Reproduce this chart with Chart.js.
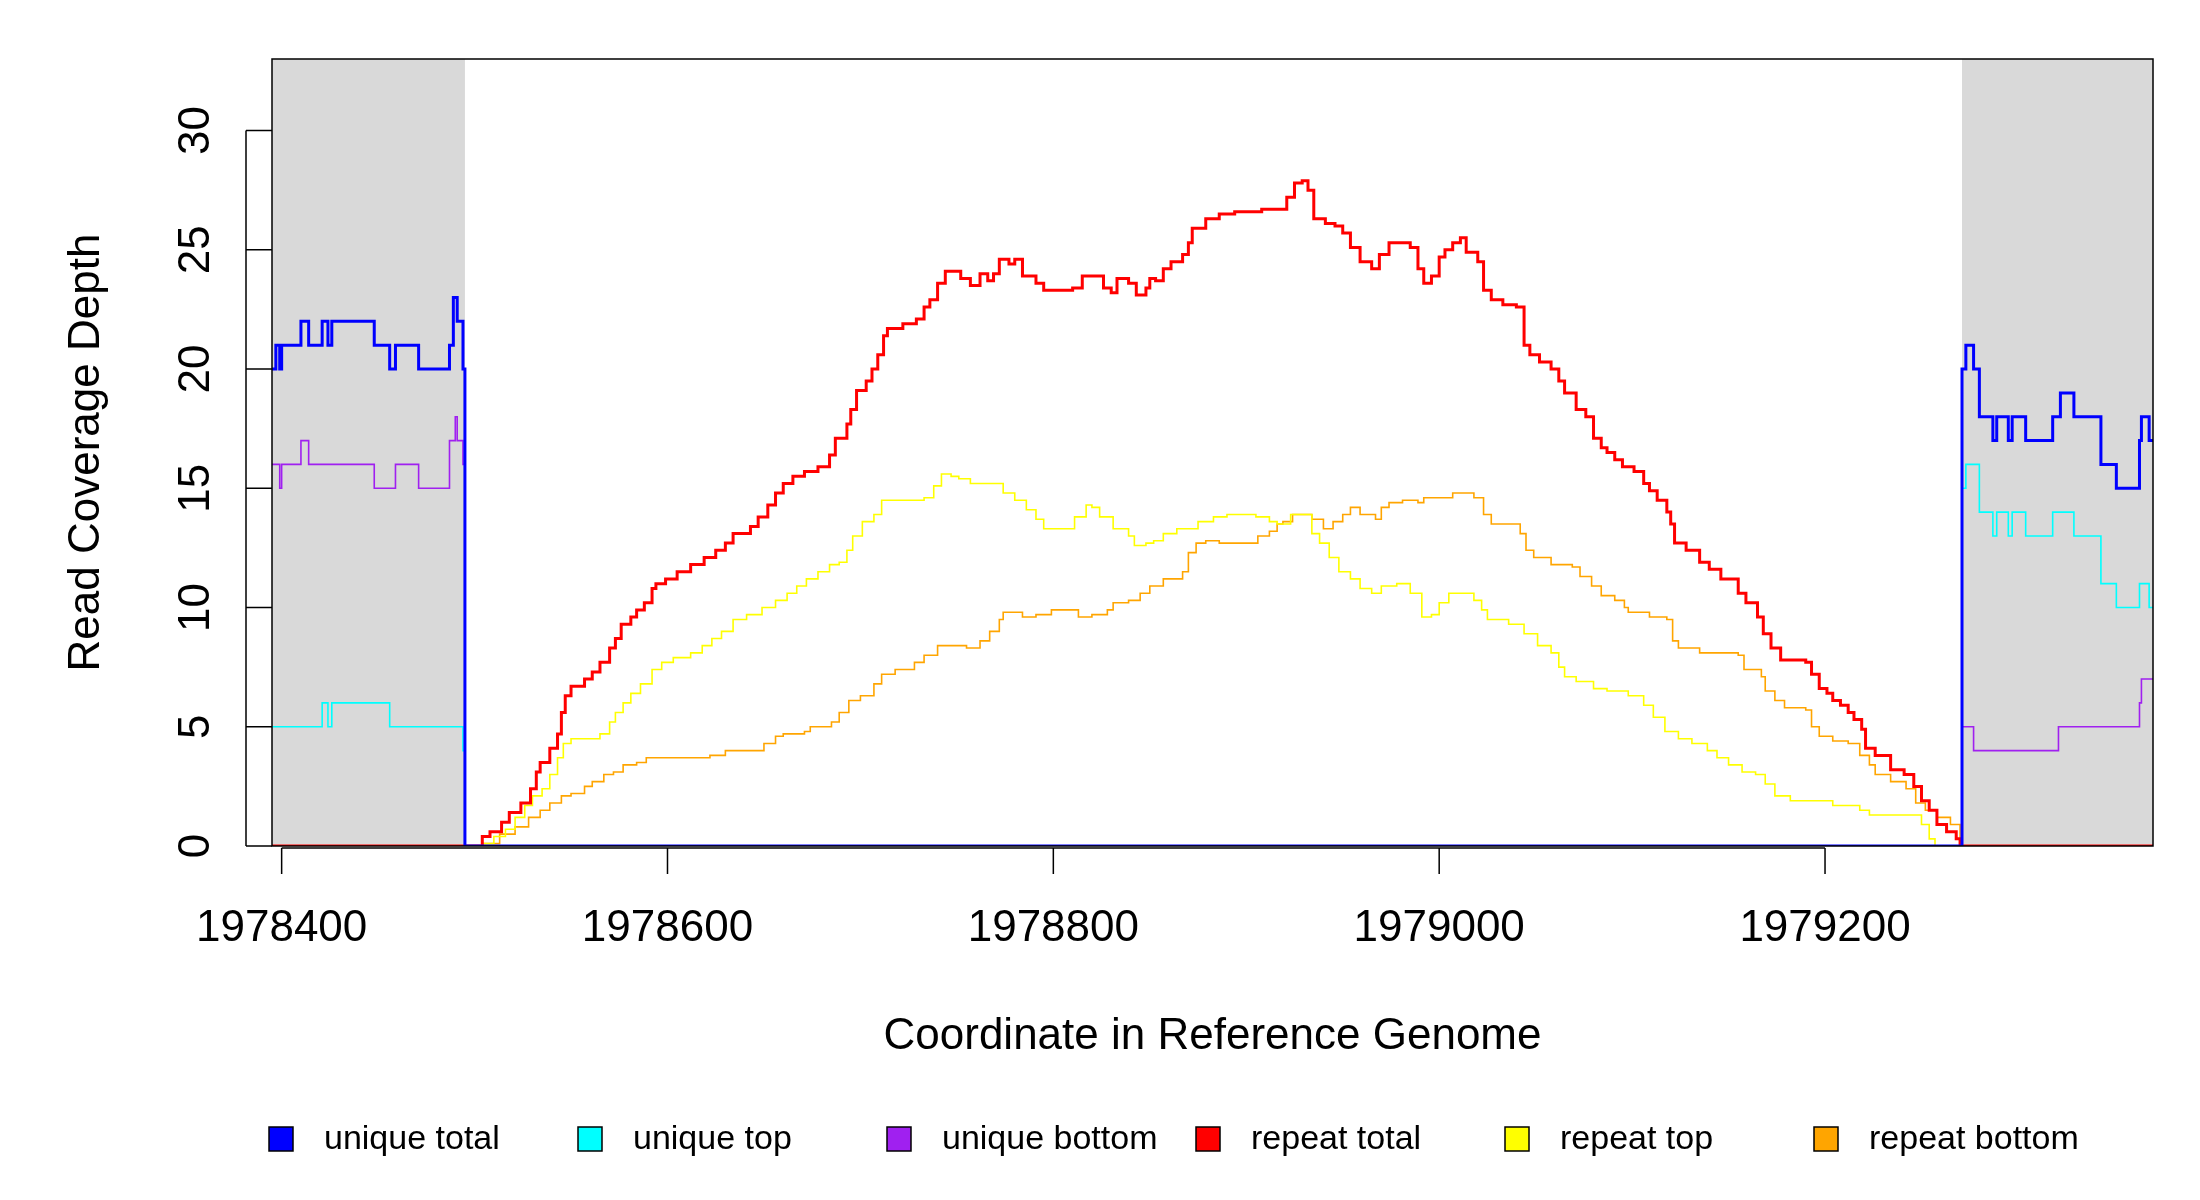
<!DOCTYPE html>
<html><head><meta charset="utf-8">
<script src="https://cdn.jsdelivr.net/npm/chart.js@4/dist/chart.umd.min.js"></script>
<style>html,body{margin:0;padding:0;background:#fff}</style>
</head><body>
<canvas id="c" width="2200" height="1200"></canvas>
<script>
const COORD_BASE = 1978400;
const X_MIN = 1978395, X_MAX = 1979370;
const MASK_LEFT = [1978395, 1978495];
const MASK_RIGHT = [1979271, 1979370];
const xTicks = [1978400, 1978600, 1978800, 1979000, 1979200];
const yTicks = [0, 5, 10, 15, 20, 25, 30];
const seriesNames = ["unique total","unique top","unique bottom","repeat total","repeat top","repeat bottom"];
const seriesColors = ["#0000FF","#00FFFF","#A020F0","#FF0000","#FFFF00","#FFA500"];

// [offset from COORD_BASE, depth]
const uniqueTotal = [[-5,20],[-3,21],[-1,20],[0,21],[10,22],[14,21],[21,22],[24,21],[26,22],[48,21],[56,20],[59,21],[71,20],[87,21],[89,23],[91,22],[94,20],[95,0],
  [871,20],[873,21],[877,20],[880,18],[887,17],[889,18],[895,17],[897,18],[904,17],[918,18],[922,19],[929,18],[943,16],[951,15],[963,17],[964,18],[968,17],[970,17]];
const uniqueTop = [[-5,5],[21,6],[24,5],[26,6],[56,5],[94,4],[95,0],
  [871,15],[873,16],[880,14],[887,13],[889,14],[895,13],[897,14],[904,13],[918,14],[929,13],[943,11],[951,10],[963,11],[968,10],[970,10]];
const uniqueBottom = [[-5,16],[-1,15],[0,16],[10,17],[14,16],[48,15],[59,16],[71,15],[87,17],[90,18],[91,17],[94,16],[95,0],
  [871,5],[877,4],[921,5],[963,6],[964,7],[970,7]];
const repeatTotal = [[-5,0],[104,0.4],[108,0.6],[114,1.0],[118,1.4],[124,1.8],[129,2.4],[132,3.1],[134,3.5],[139,4.1],[143,4.7],[145,5.6],[147,6.3],[150,6.7],[157,7.0],[161,7.3],[165,7.7],[170,8.3],[173,8.7],[176,9.3],[181,9.6],[184,9.9],[188,10.2],[192,10.8],[194,11.0],[199,11.2],[205,11.5],[212,11.8],[219,12.1],[225,12.4],[230,12.7],[234,13.1],[243,13.4],[247,13.8],[252,14.3],[256,14.8],[260,15.2],[265,15.5],[271,15.7],[278,15.9],[284,16.4],[287,17.1],[293,17.7],[295,18.3],[298,19.1],[303,19.5],[306,20.0],[309,20.6],[312,21.4],[314,21.7],[322,21.9],[329,22.1],[333,22.6],[336,22.9],[340,23.6],[344,24.1],[352,23.8],[357,23.5],[362,24.0],[366,23.7],[369,24.0],[372,24.6],[377,24.4],[380,24.6],[384,23.9],[391,23.6],[395,23.3],[410,23.4],[415,23.9],[426,23.4],[430,23.2],[433,23.8],[439,23.6],[443,23.1],[448,23.4],[450,23.8],[453,23.7],[457,24.2],[461,24.5],[467,24.8],[470,25.3],[472,25.9],[479,26.3],[486,26.5],[494,26.6],[508,26.7],[521,27.2],[525,27.8],[529,27.9],[532,27.5],[535,26.3],[541,26.1],[546,26.0],[550,25.7],[554,25.1],[559,24.5],[565,24.2],[569,24.8],[574,25.3],[585,25.1],[589,24.2],[592,23.6],[596,23.9],[600,24.7],[603,25.0],[607,25.3],[611,25.5],[614,24.9],[620,24.5],[623,23.3],[627,22.9],[633,22.7],[640,22.6],[644,21.0],[647,20.6],[652,20.3],[658,20.0],[662,19.5],[665,19.0],[671,18.3],[676,18.0],[680,17.1],[684,16.7],[687,16.5],[691,16.2],[695,15.9],[701,15.7],[706,15.2],[709,14.9],[713,14.5],[718,14.0],[720,13.5],[722,12.7],[728,12.4],[735,11.9],[740,11.6],[746,11.2],[755,10.6],[759,10.2],[765,9.6],[768,8.9],[772,8.3],[777,7.8],[790,7.7],[793,7.2],[797,6.6],[801,6.4],[804,6.1],[808,5.9],[812,5.6],[815,5.3],[819,4.9],[821,4.1],[826,3.8],[834,3.2],[841,3.0],[846,2.5],[850,1.9],[854,1.5],[858,0.9],[863,0.6],[868,0.3],[870,0],[970,0]];
const repeatTop = [[-5,0],[104,0.1],[110,0.4],[116,0.7],[121,1.2],[126,1.7],[130,2.1],[135,2.4],[139,3.0],[143,3.7],[146,4.3],[150,4.5],[165,4.7],[170,5.2],[173,5.6],[177,6.0],[181,6.4],[186,6.8],[192,7.4],[197,7.7],[203,7.9],[212,8.1],[218,8.4],[223,8.7],[228,9.0],[234,9.5],[241,9.7],[249,10.0],[256,10.3],[262,10.6],[267,10.9],[272,11.2],[278,11.5],[284,11.8],[289,11.9],[293,12.4],[296,13.0],[301,13.6],[307,13.9],[311,14.5],[333,14.6],[338,15.1],[342,15.6],[347,15.5],[351,15.4],[357,15.2],[369,15.2],[374,14.8],[380,14.5],[386,14.1],[391,13.7],[395,13.3],[411,13.8],[417,14.3],[420,14.2],[424,13.8],[431,13.3],[439,13.0],[442,12.6],[448,12.7],[452,12.8],[457,13.1],[464,13.3],[475,13.6],[483,13.8],[490,13.9],[505,13.8],[512,13.6],[516,13.5],[523,13.9],[530,13.9],[534,13.1],[538,12.7],[543,12.1],[548,11.5],[554,11.2],[559,10.8],[565,10.6],[570,10.9],[578,11.0],[585,10.6],[591,9.6],[596,9.7],[600,10.2],[605,10.6],[611,10.6],[618,10.3],[622,9.9],[625,9.5],[636,9.3],[644,8.9],[651,8.4],[658,8.1],[662,7.5],[665,7.1],[671,6.9],[680,6.6],[687,6.5],[698,6.3],[706,5.9],[711,5.4],[717,4.8],[724,4.5],[731,4.3],[739,4.0],[744,3.7],[750,3.4],[757,3.1],[764,3.0],[769,2.6],[774,2.1],[782,1.9],[804,1.7],[818,1.5],[823,1.3],[847,1.3],[850,0.9],[854,0.3],[857,0],[970,0]];
const repeatBottom = [[-5,0],[104,0.1],[113,0.5],[121,0.8],[128,1.2],[134,1.5],[139,1.8],[145,2.1],[150,2.2],[157,2.5],[161,2.7],[167,3.0],[172,3.1],[177,3.4],[184,3.5],[189,3.7],[222,3.8],[230,4.0],[250,4.3],[256,4.6],[260,4.7],[271,4.8],[274,5.0],[285,5.2],[289,5.6],[294,6.1],[300,6.3],[307,6.8],[311,7.2],[318,7.4],[328,7.7],[333,8.0],[340,8.4],[351,8.4],[355,8.3],[362,8.6],[367,9.0],[372,9.5],[374,9.8],[384,9.6],[391,9.7],[399,9.9],[410,9.9],[413,9.6],[420,9.7],[428,9.9],[431,10.2],[439,10.3],[445,10.6],[450,10.9],[457,11.2],[467,11.5],[470,12.3],[474,12.7],[479,12.8],[486,12.7],[501,12.7],[506,13.0],[512,13.2],[516,13.5],[519,13.6],[524,13.9],[534,13.7],[540,13.3],[545,13.6],[550,13.9],[554,14.2],[559,13.9],[567,13.7],[570,14.2],[574,14.4],[581,14.5],[589,14.4],[592,14.6],[607,14.8],[618,14.6],[623,13.9],[627,13.5],[642,13.1],[645,12.4],[649,12.1],[658,11.8],[669,11.7],[673,11.3],[679,10.9],[684,10.5],[691,10.3],[696,10.0],[698,9.8],[709,9.6],[718,9.5],[721,8.6],[724,8.3],[735,8.1],[755,8.0],[758,7.4],[767,7.1],[769,6.5],[774,6.1],[779,5.8],[790,5.7],[793,5.0],[797,4.6],[804,4.4],[812,4.3],[818,3.8],[823,3.4],[826,3.0],[834,2.7],[842,2.4],[847,1.8],[852,1.5],[858,1.2],[865,0.9],[870,0],[970,0]];

const seriesData = [uniqueTotal, uniqueTop, uniqueBottom, repeatTotal, repeatTop, repeatBottom];
const seriesWidths = [3, 1.6, 1.6, 3, 1.6, 1.6];

const FONT = '"Liberation Sans", Arial, sans-serif';

const decor = {
  id: 'decor',
  beforeDatasetsDraw(chart) {
    const {ctx, chartArea: a, scales: {x}} = chart;
    ctx.save();
    ctx.fillStyle = '#D9D9D9';
    for (const m of [MASK_LEFT, MASK_RIGHT]) {
      const x0 = x.getPixelForValue(m[0]), x1 = x.getPixelForValue(m[1]);
      ctx.fillRect(x0, a.top, x1 - x0, a.bottom - a.top);
    }
    ctx.restore();
  },
  afterDatasetsDraw(chart) {
    const {ctx, chartArea: a, scales: {x, y}} = chart;
    ctx.save();
    ctx.strokeStyle = '#000'; ctx.lineWidth = 1.5;
    ctx.strokeRect(a.left, a.top, a.right - a.left, a.bottom - a.top);
    // x axis
    ctx.beginPath();
    const ay = a.bottom + 2;
    ctx.moveTo(x.getPixelForValue(xTicks[0]), ay);
    ctx.lineTo(x.getPixelForValue(xTicks[xTicks.length-1]), ay);
    ctx.fillStyle = '#000';
    ctx.font = '44px ' + FONT; ctx.textAlign = 'center'; ctx.textBaseline = 'middle';
    for (const t of xTicks) {
      const px = x.getPixelForValue(t);
      ctx.moveTo(px, ay); ctx.lineTo(px, ay + 26);
      ctx.fillText(String(t), px, 929);
    }
    ctx.stroke();
    // y axis
    const ax = a.left - 26;
    ctx.beginPath();
    ctx.moveTo(ax, y.getPixelForValue(yTicks[0]));
    ctx.lineTo(ax, y.getPixelForValue(yTicks[yTicks.length-1]));
    for (const t of yTicks) {
      const py = y.getPixelForValue(t);
      ctx.moveTo(ax, py); ctx.lineTo(a.left, py);
      ctx.save(); ctx.translate(197, py); ctx.rotate(-Math.PI/2);
      ctx.fillText(String(t), 0, 0); ctx.restore();
    }
    ctx.stroke();
    // titles
    ctx.fillText('Coordinate in Reference Genome', (a.left + a.right)/2, 1037);
    ctx.save(); ctx.translate(87, (a.top + a.bottom)/2); ctx.rotate(-Math.PI/2);
    ctx.fillText('Read Coverage Depth', 0, 0); ctx.restore();
    // legend
    ctx.font = '34px ' + FONT; ctx.textAlign = 'left';
    const ly = 1139;
    seriesNames.forEach((n, i) => {
      const cx = 281 + i * 309;
      ctx.fillStyle = seriesColors[i];
      ctx.fillRect(cx - 12, ly - 12, 24, 24);
      ctx.lineWidth = 1.5; ctx.strokeStyle = '#000';
      ctx.strokeRect(cx - 12, ly - 12, 24, 24);
      ctx.fillStyle = '#000';
      ctx.fillText(n, cx + 43, ly + 1);
    });
    ctx.restore();
  }
};

const datasets = seriesNames.map((n, i) => ({
  label: n,
  data: seriesData[i].map(p => ({x: COORD_BASE + p[0], y: p[1]})),
  borderColor: seriesColors[i],
  backgroundColor: seriesColors[i],
  borderWidth: seriesWidths[i],
  stepped: true,
  pointRadius: 0,
  fill: false,
  order: i < 3 ? 1 : 2
}));

new Chart(document.getElementById('c'), {
  type: 'line',
  data: { datasets },
  options: {
    responsive: false, animation: false, devicePixelRatio: 1,
    layout: { padding: { left: 272, right: 47, top: 59, bottom: 354 } },
    plugins: { legend: { display: false }, tooltip: { enabled: false } },
    scales: {
      x: { type: 'linear', min: X_MIN, max: X_MAX, display: false },
      y: { type: 'linear', min: 0, max: 33, display: false }
    }
  },
  plugins: [decor]
});
</script>
</body></html>
